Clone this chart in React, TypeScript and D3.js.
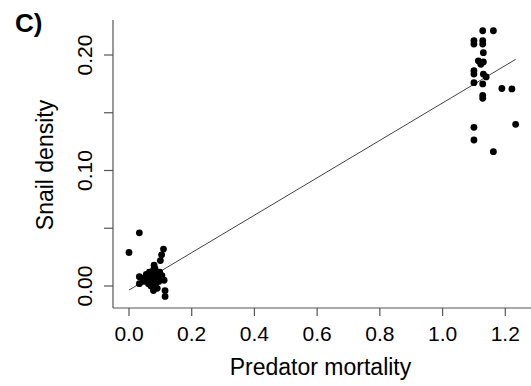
import React from "react";
import * as d3 from "d3";

const lowX = [0.0, 0.033, 0.033, 0.033, 0.045, 0.05, 0.055, 0.06, 0.062, 0.065, 0.068, 0.07, 0.072, 0.075, 0.078, 0.078, 0.08, 0.082, 0.085, 0.088, 0.09, 0.092, 0.095, 0.1, 0.104, 0.11, 0.112, 0.115, 0.115, 0.083, 0.105, 0.098];
const lowY = [0.029, 0.046, 0.008, 0.002, 0.004, 0.007, 0.01, 0.005, 0.002, 0.012, 0.008, 0.0, 0.004, 0.01, 0.014, -0.004, 0.018, 0.006, 0.002, 0.011, -0.002, 0.007, 0.004, 0.022, 0.027, 0.032, 0.005, -0.004, -0.009, 0.015, 0.009, 0.012];
const highX = [1.128, 1.162, 1.1, 1.1, 1.128, 1.128, 1.13, 1.114, 1.13, 1.122, 1.1, 1.1, 1.13, 1.139, 1.1, 1.128, 1.189, 1.221, 1.128, 1.128, 1.1, 1.233, 1.1, 1.162];
const highY = [0.221, 0.221, 0.2124, 0.2095, 0.2124, 0.2095, 0.202, 0.195, 0.194, 0.192, 0.1864, 0.1835, 0.1835, 0.181, 0.176, 0.175, 0.171, 0.1706, 0.165, 0.1625, 0.1374, 0.14, 0.1264, 0.1163];
const xTicks = [0, 0.2, 0.4, 0.6, 0.8, 1.0, 1.2];
const yTicks = [0, 0.05, 0.1, 0.15, 0.2];
const yLabelTicks = [0, 0.1, 0.2];
const fitIntercept = -0.0035;
const fitSlope = 0.162;

export default function App() {
  const W = 531, H = 386;
  const x = d3.scaleLinear().domain([0, 1.2]).range([129, 505.3]);
  const y = d3.scaleLinear().domain([0, 0.2]).range([286, 55]);
  const axX = 113, axY = 308;
  const pts = [
    ...lowX.map((v, i) => [v, lowY[i]]),
    ...highX.map((v, i) => [v, highY[i]]),
  ];
  const xs = pts.map((p) => p[0]);
  const x0 = d3.min(xs) as number, x1 = d3.max(xs) as number;
  const line = d3.line<number>().x((d) => x(d)).y((d) => y(fitIntercept + fitSlope * d));
  const font = "'Liberation Sans', Arial, sans-serif";
  return (
    <svg width={W} height={H} style={{ position: "absolute", left: 0, top: 0, background: "#fff" }} fontFamily={font}>
      <text x={15} y={32} fontSize={26} fontWeight="bold">C)</text>
      <line x1={axX} x2={axX} y1={20} y2={axY} stroke="#555" strokeWidth={1.2} />
      <line x1={axX} x2={W} y1={axY} y2={axY} stroke="#555" strokeWidth={1.2} />
      {xTicks.map((t) => (
        <g key={"x" + t}>
          <line x1={x(t)} x2={x(t)} y1={axY} y2={axY + 8} stroke="#555" strokeWidth={1.2} />
          <text x={x(t)} y={341} fontSize={21} textAnchor="middle">{t.toFixed(1)}</text>
        </g>
      ))}
      {yTicks.map((t) => (
        <line key={"y" + t} x1={axX - 9} x2={axX} y1={y(t)} y2={y(t)} stroke="#555" strokeWidth={1.2} />
      ))}
      {yLabelTicks.map((t) => (
        <text key={"yl" + t} transform={`translate(91.5,${y(t)}) rotate(-90)`} fontSize={21} textAnchor="middle">{t.toFixed(2)}</text>
      ))}
      <text x={320.5} y={375} fontSize={23} textAnchor="middle">Predator mortality</text>
      <text transform={`translate(53,165) rotate(-90)`} fontSize={23} textAnchor="middle">Snail density</text>
      <path d={line([x0, x1]) || ""} stroke="#444" strokeWidth={1} fill="none" />
      {pts.map((p, i) => (
        <circle key={i} cx={x(p[0])} cy={y(p[1])} r={3.4} fill="#000" />
      ))}
    </svg>
  );
}
